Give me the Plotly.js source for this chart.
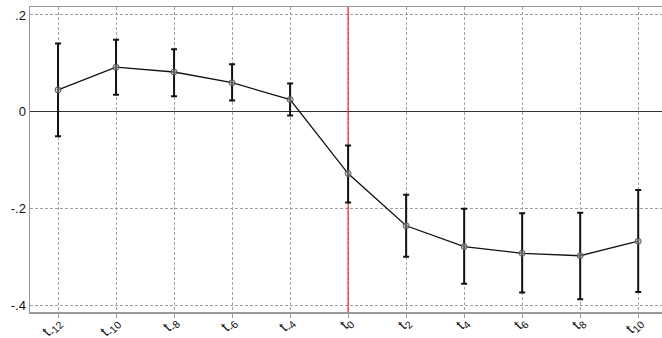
<!DOCTYPE html>
<html>
<head>
<meta charset="utf-8">
<script src="https://cdn.plot.ly/plotly-3.0.1.min.js"></script>
<style>html,body{margin:0;padding:0;background:#fff;}#chart{width:662px;height:338px;}</style>
</head>
<body>
<div id="chart"></div>
<script>
// Event-time categories
const periods = ["t-12","t-10","t-8","t-6","t-4","t0","t2","t4","t6","t8","t10"];
const periodLabels = ["t<sub>-12</sub>","t<sub>-10</sub>","t<sub>-8</sub>","t<sub>-6</sub>","t<sub>-4</sub>","t<sub>0</sub>","t<sub>2</sub>","t<sub>4</sub>","t<sub>6</sub>","t<sub>8</sub>","t<sub>10</sub>"];
// Point estimates
const estimates = [0.045, 0.092, 0.082, 0.060, 0.025, -0.128, -0.236, -0.279, -0.293, -0.298, -0.268];
// Confidence interval bounds
const ciUpper = [0.141, 0.149, 0.129, 0.098, 0.058, -0.070, -0.172, -0.201, -0.210, -0.209, -0.162];
const ciLower = [-0.051, 0.035, 0.032, 0.023, -0.008, -0.188, -0.300, -0.356, -0.374, -0.388, -0.373];
// Y tick values and labels
const yTickVals = [0.2, 0, -0.2, -0.4];
const yTickText = [".2", "0", "-.2", "-.4"];
const yRange = [-0.4144, 0.2165];
const eventPeriod = "t0";

const errPlus = estimates.map((v, i) => ciUpper[i] - v);
const errMinus = estimates.map((v, i) => v - ciLower[i]);

const eventLine = {
  x: [eventPeriod, eventPeriod],
  y: yRange,
  type: "scatter", mode: "lines",
  line: {color: "#ff2020", width: 1.2},
  hoverinfo: "skip"
};

const trace = {
  x: periods,
  y: estimates,
  type: "scatter",
  mode: "lines+markers",
  line: {color: "#111", width: 1.3},
  marker: {symbol: "circle", size: 6, color: "rgba(170,170,170,0.5)", line: {color: "#555", width: 1}},
  error_y: {type: "data", symmetric: false, array: errPlus, arrayminus: errMinus, color: "#111", thickness: 2, width: 3},
  hoverinfo: "skip"
};

// Rotated category labels placed as axis-anchored annotations
const labelAnnotations = periods.map((p, i) => ({
  xref: "x", yref: "paper", x: p, y: 0,
  text: periodLabels[i], showarrow: false,
  textangle: -45, xanchor: "right", yanchor: "top",
  xshift: 11, yshift: 2,
  font: {size: 15, color: "#111", family: "Liberation Sans, Arial, sans-serif"}
}));

const layout = {
  width: 662, height: 338,
  margin: {l: 30, r: 0, t: 7, b: 26, pad: 0},
  paper_bgcolor: "#fff", plot_bgcolor: "#fff",
  showlegend: false,
  font: {family: "Liberation Sans, Arial, sans-serif", color: "#111"},
  xaxis: {
    type: "category",
    categoryorder: "array", categoryarray: periods,
    tickvals: periods,
    showticklabels: false,
    range: [-0.483, 10.41],
    ticks: "outside", ticklen: 4, tickcolor: "#999",
    showgrid: true, gridcolor: "#a0a0a0", gridwidth: 1, griddash: "3px,2px",
    showline: true, linecolor: "#999", linewidth: 1.5, mirror: true,
    zeroline: false
  },
  yaxis: {
    range: yRange,
    tickvals: yTickVals, ticktext: yTickText,
    tickfont: {size: 13, color: "#111"},
    ticks: "", ticklen: 0,
    showgrid: true, gridcolor: "#a0a0a0", gridwidth: 1, griddash: "3px,2px",
    showline: true, linecolor: "#999", linewidth: 1.5,
    zeroline: true, zerolinecolor: "#333", zerolinewidth: 1.3
  },
  annotations: labelAnnotations
};

Plotly.newPlot("chart", [eventLine, trace], layout, {displayModeBar: false, staticPlot: true});
</script>
</body>
</html>
